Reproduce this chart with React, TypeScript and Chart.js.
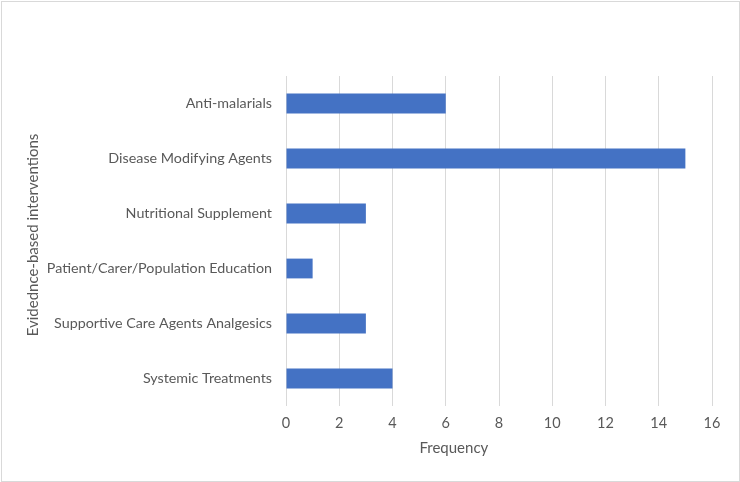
import React, { useEffect, useRef } from "react";
import { Chart, registerables } from "chart.js";

Chart.register(...registerables);

const categories = [
  "Anti-malarials",
  "Disease Modifying Agents",
  "Nutritional Supplement",
  "Patient/Carer/Population Education",
  "Supportive Care Agents Analgesics",
  "Systemic Treatments",
];
const frequencies = [6, 15, 3, 1, 3, 4];
const xTitle = "Frequency";
const yTitle = "Evidednce-based interventions";

const FONT = "Lato, 'Open Sans', sans-serif";
const TEXT = "#595959";

const titlesPlugin = {
  id: "titles",
  afterDraw(chart: any) {
    const ctx = chart.ctx;
    const a = chart.chartArea;
    ctx.save();
    ctx.fillStyle = TEXT;
    ctx.font = `15px ${FONT}`;
    ctx.textAlign = "center";
    ctx.textBaseline = "middle";
    ctx.fillText(xTitle, a.left + (a.right - a.left) * 0.394, 448);
    ctx.translate(33, (a.top + a.bottom) / 2 - 6);
    ctx.rotate(-Math.PI / 2);
    ctx.fillText(yTitle, 0, 0);
    ctx.restore();
  },
};

export default function App() {
  const ref = useRef<HTMLCanvasElement>(null);
  useEffect(() => {
    if (!ref.current) return;
    const chart = new Chart(ref.current, {
      type: "bar",
      data: {
        labels: categories,
        datasets: [
          {
            data: frequencies,
            backgroundColor: "#4472c4",
            barPercentage: 0.36,
            categoryPercentage: 1,
          },
        ],
      },
      options: {
        indexAxis: "y",
        animation: false,
        responsive: false,
        layout: { padding: { top: 76, right: 28, left: 0, bottom: 0 } },
        plugins: { legend: { display: false }, tooltip: { enabled: false } },
        scales: {
          x: {
            min: 0,
            max: 16,
            ticks: { stepSize: 2, color: TEXT, font: { family: FONT, size: 14.5 }, padding: 9 },
            grid: { color: "#d9d9d9", drawTicks: false },
            border: { display: false },
            afterFit: (s: any) => {
              s.height = 76;
            },
          },
          y: {
            ticks: { color: TEXT, font: { family: FONT, size: 14.3 }, padding: 14 },
            grid: { display: false, drawTicks: false },
            border: { display: false },
            afterFit: (s: any) => {
              s.width = 286;
            },
          },
        },
      },
      plugins: [titlesPlugin],
    });
    return () => chart.destroy();
  }, []);
  return (
    <div
      style={{
        position: "fixed",
        left: 0,
        top: 0,
        width: 740,
        height: 482,
        background: "#fff",
      }}
    >
      <canvas ref={ref} width={740} height={482} style={{ display: "block" }} />
      <div
        style={{
          position: "absolute",
          left: 1,
          top: 1,
          width: 737,
          height: 479,
          border: "1px solid #d9d9d9",
          pointerEvents: "none",
        }}
      />
    </div>
  );
}
